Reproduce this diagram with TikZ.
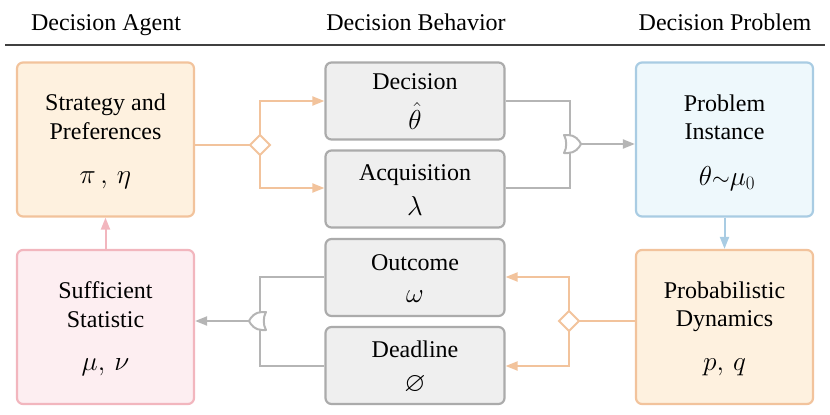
\documentclass[tikz,border=0pt]{standalone}
\usepackage{graphicx}
\usepackage{amssymb}
\usepackage{fontspec}
\setmainfont{Liberation Serif}
\usetikzlibrary{arrows.meta,calc}
\newcommand{\mymath}[1]{\scalebox{1.1}{$#1$}}
\definecolor{gline}{HTML}{B5B5B5}
\definecolor{gdraw}{HTML}{ABABAB}
\definecolor{gfill}{HTML}{EFEFEF}
\definecolor{oline}{HTML}{F2C39C}
\definecolor{ofill}{HTML}{FEF1DF}
\definecolor{bdraw}{HTML}{A9CCE3}
\definecolor{bfill}{HTML}{EEF8FC}
\definecolor{pdraw}{HTML}{F2B6BE}
\definecolor{pfill}{HTML}{FDEEF1}
\definecolor{hline}{HTML}{404040}
\tikzset{
  box/.style={draw, line width=2.2pt, rounded corners=6pt, inner sep=0pt},
  agentbox/.style={box, minimum width=177pt, minimum height=154pt},
  midbox/.style={box, draw=gdraw, fill=gfill, minimum width=179pt, minimum height=77pt},
  hdr/.style={font=\fontsize{24}{28}\selectfont, anchor=base, inner sep=0pt},
  txt/.style={font=\fontsize{24}{28}\selectfont, anchor=base, inner sep=0pt},
  mth/.style={font=\fontsize{24.88}{30}\selectfont, anchor=base, inner sep=0pt},
  tip/.style={-{Triangle[length=12pt,width=9pt]}},
  garrow/.style={draw=gline, line width=2pt, tip},
  gconn/.style={draw=gline, line width=2pt},
  oarrow/.style={draw=oline, line width=2pt, tip},
  oconn/.style={draw=oline, line width=2pt},
}
\begin{document}
\begin{tikzpicture}[x=1pt,y=-1pt]
\useasboundingbox (0,0) rectangle (830,415);
% header
\node[hdr] (h1) at (106,30) {Decision Agent};
\node[hdr] (h2) at (416,30) {Decision Behavior};
\node[hdr] (h3) at (725,30) {Decision Problem};
\draw[hline, line width=1.8pt] (5,45) -- (825,45);

% agent / problem boxes
\node[agentbox, draw=oline, fill=ofill] (strat) at (105.5,139.5) {};
\node[txt] (stratT1) at (105.5,110) {Strategy and};
\node[txt] (stratT2) at (105.5,139) {Preferences};
\node[mth] (stratM) at (105.5,183) {\mymath{\pi\,,\,\eta}};

\node[agentbox, draw=pdraw, fill=pfill] (suff) at (105.5,327) {};
\node[txt] (suffT1) at (105.5,298) {Sufficient};
\node[txt] (suffT2) at (105.5,327) {Statistic};
\node[mth] (suffM) at (105.5,370) {\mymath{\mu,\,\nu}};

\node[agentbox, draw=bdraw, fill=bfill] (prob) at (724.5,139.5) {};
\node[txt] (probT1) at (724.5,111) {Problem};
\node[txt] (probT2) at (724.5,139) {Instance};
\node[mth] (probM) at (727,185) {\mymath{\theta{\scriptstyle\sim}\mu_{\scriptscriptstyle 0}}};

\node[agentbox, draw=oline, fill=ofill] (dyn) at (724.5,327) {};
\node[txt] (dynT1) at (724.5,298) {Probabilistic};
\node[txt] (dynT2) at (724.5,326) {Dynamics};
\node[mth] (dynM) at (724.5,370) {\mymath{p,\,q}};

% behaviour boxes
\node[midbox] (dec) at (415,101) {};
\node[txt] (decT) at (415,89) {Decision};
\node[mth] (decM) at (415,129) {\mymath{\hat{\theta}}};

\node[midbox] (acq) at (415,189) {};
\node[txt] (acqT) at (415,180) {Acquisition};
\node[mth] (acqM) at (415,215) {\mymath{\lambda}};

\node[midbox] (out) at (415,277.5) {};
\node[txt] (outT) at (415,270) {Outcome};
\node[mth] (outM) at (415,302) {\mymath{\omega}};

\node[midbox] (dead) at (415,365.5) {};
\node[txt] (deadT) at (415,357) {Deadline};
\node[mth] (deadM) at (415,391) {\mymath{\varnothing}};

% top-left diamond split
\coordinate (d1) at (260,145);
\draw[oconn] (strat.east |- d1) -- ($(d1)+(-10,0)$);
\draw[oconn, fill=white] ($(d1)+(-10,0)$) -- ($(d1)+(0,-10)$) -- ($(d1)+(10,0)$) -- ($(d1)+(0,10)$) -- cycle;
\draw[oarrow] ($(d1)+(0,-10)$) |- (dec.west |- 0,101);
\draw[oarrow] ($(d1)+(0,10)$) |- (acq.west |- 0,188);

% top-right OR gate
\draw[gconn] (dec.east |- 0,101) -| (570,136);
\draw[gconn] (acq.east |- 0,188) -| (570,152);
\draw[gconn, fill=white, line join=round] (564,135) -- (568,135) .. controls (575,135) and (579,140) .. (581,144)
   .. controls (579,148) and (575,153) .. (568,153) -- (564,153) .. controls (567,148) and (567,140) .. (564,135) -- cycle;
\draw[garrow] (581,144) -- (prob.west |- 0,144);

% problem -> dynamics
\draw[draw=bdraw, line width=2pt, tip] (prob.south) -- (dyn.north);

% sufficient -> strategy
\draw[draw=pdraw, line width=2pt, tip] (suff.north) -- (strat.south);

% bottom-right diamond split
\coordinate (d2) at (569,321);
\draw[oconn] (dyn.west |- d2) -- ($(d2)+(10,0)$);
\draw[oconn, fill=white] ($(d2)+(-10,0)$) -- ($(d2)+(0,-10)$) -- ($(d2)+(10,0)$) -- ($(d2)+(0,10)$) -- cycle;
\draw[oarrow] ($(d2)+(0,-10)$) |- (out.east |- 0,277);
\draw[oarrow] ($(d2)+(0,10)$) |- (dead.east |- 0,366);

% bottom-left OR gate
\draw[gconn] (out.west |- 0,277) -| (260,313);
\draw[gconn] (dead.west |- 0,366) -| (260,329);
\draw[gconn, fill=white, line join=round] (266,312) -- (262,312) .. controls (255,312) and (251,317) .. (249,321)
   .. controls (251,325) and (255,330) .. (262,330) -- (266,330) .. controls (263,325) and (263,317) .. (266,312) -- cycle;
\draw[garrow] (249,321) -- (suff.east |- 0,321);
\end{tikzpicture}
\end{document}
